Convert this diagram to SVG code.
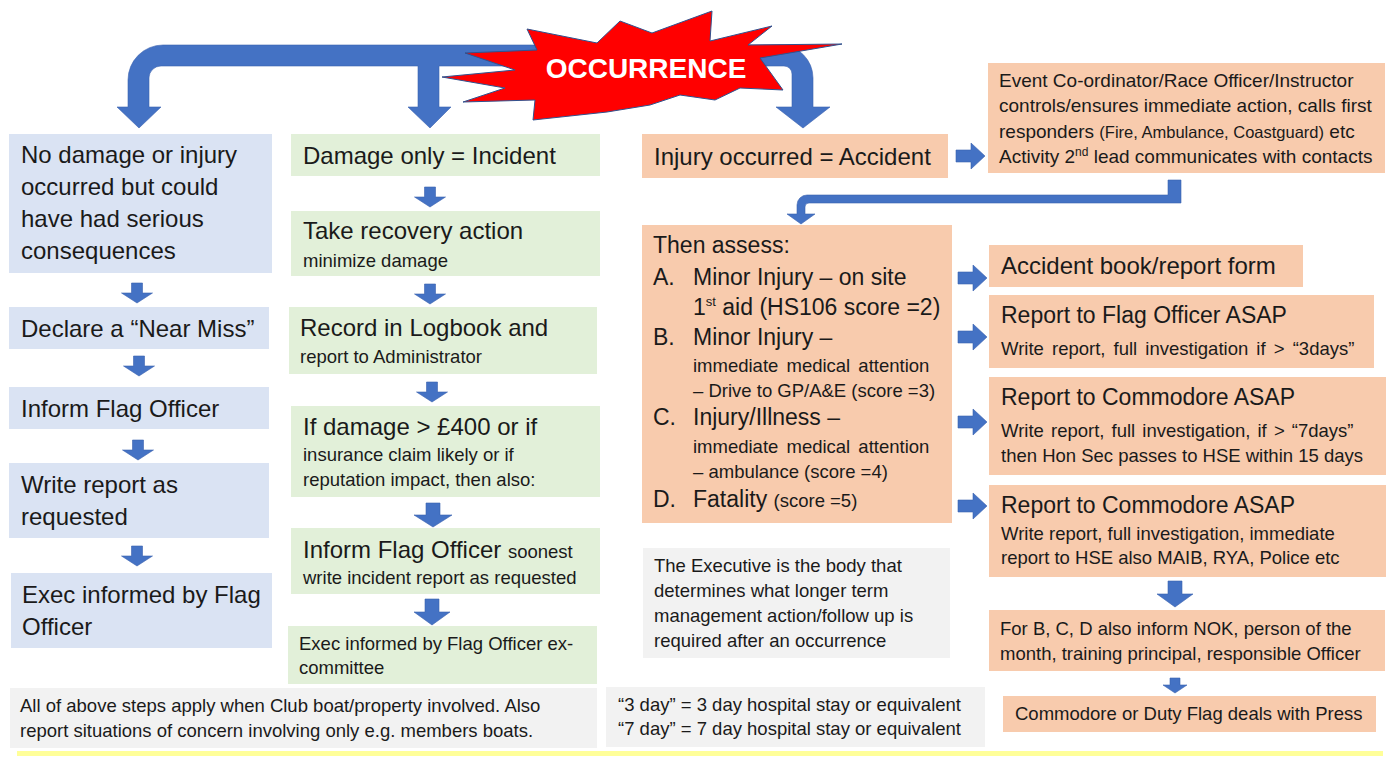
<svg xmlns="http://www.w3.org/2000/svg" width="1399" height="758" viewBox="0 0 1399 758">
<style>
text{font-family:"Liberation Sans",Arial,sans-serif;fill:#1a1a1a}
.big{font-size:24px}
.mid{font-size:23px}
.sm{font-size:18.5px}
.ev{font-size:19px}
.blue{fill:#DAE3F3}
.green{fill:#E2F0D9}
.orange{fill:#F8CBAD}
.gray{fill:#F2F2F2}
.arr{fill:#4472C4;stroke:#3A62AE;stroke-width:0.6}
</style>
<defs>
<path id="dA" d="M-5.5,0 H5.5 V10 H15.5 L0,20 L-15.5,10 H-5.5 Z"/>
<path id="dB" d="M-7,0 H7 V12 H19 L0,24 L-19,12 H-7 Z"/>
<path id="dC" d="M-7,0 H7 V13 H18 L0,26 L-18,13 H-7 Z"/>
<path id="dD" d="M-5,0 H5 V7 H12 L0,15 L-12,7 H-5 Z"/>
<path id="rA" d="M0,-6 H15 V-13 L29,0 L15,13 V6 H0 Z"/>
</defs>
<rect width="1399" height="758" fill="#ffffff"/>

<g id="connectors">
<path class="arr" d="M128,107 V80 A35,35 0 0 1 163,45 H780 A33,33 0 0 1 813,78 V107 H830 L803,128 L776,107 H792 V74 A8,8 0 0 0 784,66 H439 V107 H451 L430,128 L408,107 H418 V66 H161 A12,12 0 0 0 149,78 V107 H161 L139,128 L117,107 Z"/>
<use href="#dA" class="arr" transform="translate(137,283)"/>
<use href="#dA" class="arr" transform="translate(139,356)"/>
<use href="#dA" class="arr" transform="translate(138,440)"/>
<use href="#dA" class="arr" transform="translate(137,546)"/>
<use href="#dA" class="arr" transform="translate(430,187)"/>
<use href="#dA" class="arr" transform="translate(430,284)"/>
<use href="#dA" class="arr" transform="translate(432,382)"/>
<use href="#dB" class="arr" transform="translate(433,503)"/>
<use href="#dC" class="arr" transform="translate(432,599)"/>
<use href="#rA" class="arr" transform="translate(956,156)"/>
<path class="arr" d="M1168,180 H1181 V203 H809 A4,4 0 0 0 805,207 V214 H815 L801,224 L787,214 H797 V205 A10,10 0 0 1 807,195 H1168 Z"/>
<use href="#rA" class="arr" transform="translate(958,278)"/>
<use href="#rA" class="arr" transform="translate(958,337)"/>
<use href="#rA" class="arr" transform="translate(958,422)"/>
<use href="#rA" class="arr" transform="translate(958,506)"/>
<use href="#dC" class="arr" transform="translate(1175,581)"/>
<use href="#dD" class="arr" transform="translate(1175,678)"/>
</g>

<g id="occurrence">
<polygon points="527,29 597,43 620,21 652,33 712,11 710,41 772,26 748,45 842,44 760,58 783,90 740,88 715,100 680,95 650,105 607,112 533,120 535,100 463,102 505,88 442,77 515,70 465,53 537,50" fill="#FF0000" stroke="#2F528F" stroke-width="1"/>
<text x="646" y="78" text-anchor="middle" font-size="28" font-weight="bold" style="fill:#ffffff">OCCURRENCE</text>
</g>

<g id="near-miss-start">
<rect class="blue" x="9" y="134" width="263" height="139"/>
<text class="big" x="21" y="163">No damage or injury</text>
<text class="big" x="21" y="195">occurred but could</text>
<text class="big" x="21" y="227">have had serious</text>
<text class="big" x="21" y="259">consequences</text>
</g>
<g id="declare-near-miss">
<rect class="blue" x="9" y="307" width="260" height="42"/>
<text class="big" x="21" y="337">Declare a “Near Miss”</text>
</g>
<g id="inform-flag-officer">
<rect class="blue" x="9" y="387" width="260" height="42"/>
<text class="big" x="21" y="417">Inform Flag Officer</text>
</g>
<g id="write-report">
<rect class="blue" x="9" y="463" width="260" height="75"/>
<text class="big" x="21" y="493">Write report as</text>
<text class="big" x="21" y="525">requested</text>
</g>
<g id="exec-informed-left">
<rect class="blue" x="11" y="573" width="261" height="75"/>
<text class="big" x="22" y="603">Exec informed by Flag</text>
<text class="big" x="22" y="635">Officer</text>
</g>

<g id="damage-only">
<rect class="green" x="291" y="134" width="309" height="42"/>
<text class="big" x="303" y="164">Damage only = Incident</text>
</g>
<g id="recovery-action">
<rect class="green" x="291" y="211" width="309" height="65"/>
<text class="big" x="303" y="239">Take recovery action</text>
<text class="sm" x="303" y="267">minimize damage</text>
</g>
<g id="record-logbook">
<rect class="green" x="289" y="307" width="308" height="67"/>
<text class="big" x="300" y="336">Record in Logbook and</text>
<text class="sm" x="300" y="363">report to Administrator</text>
</g>
<g id="damage-400">
<rect class="green" x="291" y="406" width="309" height="91"/>
<text class="big" x="303" y="435">If damage &gt; £400 or if</text>
<text class="sm" x="303" y="461">insurance claim likely or if</text>
<text class="sm" x="303" y="486">reputation impact, then also:</text>
</g>
<g id="inform-flag-soonest">
<rect class="green" x="291" y="528" width="309" height="66"/>
<text class="big" x="303" y="558">Inform Flag Officer <tspan class="sm">soonest</tspan></text>
<text class="sm" x="303" y="584">write incident report as requested</text>
</g>
<g id="exec-informed-mid">
<rect class="green" x="288" y="626" width="309" height="58"/>
<text class="sm" x="299" y="650">Exec informed by Flag Officer ex-</text>
<text class="sm" x="299" y="674">committee</text>
</g>

<g id="injury-accident">
<rect class="orange" x="642" y="134" width="306" height="44"/>
<text class="big" x="654" y="165">Injury occurred = Accident</text>
</g>
<g id="event-coordinator">
<rect class="orange" x="988" y="63" width="397" height="110"/>
<text class="ev" x="999" y="87">Event Co-ordinator/Race Officer/Instructor</text>
<text class="ev" x="999" y="112">controls/ensures immediate action, calls first</text>
<text class="ev" x="999" y="138">responders <tspan font-size="16.5">(Fire, Ambulance, Coastguard)</tspan> etc</text>
<text class="ev" x="999" y="163">Activity 2<tspan font-size="12" dy="-7">nd</tspan><tspan dy="7"> lead communicates with contacts</tspan></text>
</g>
<g id="then-assess">
<rect class="orange" x="642" y="225" width="310" height="298"/>
<text class="mid" x="653" y="253">Then assess:</text>
<text class="mid" x="653" y="285">A.</text>
<text class="mid" x="693" y="285">Minor Injury – on site</text>
<text class="mid" x="693" y="315">1<tspan font-size="13" dy="-9">st</tspan><tspan dy="9"> aid (HS106 score =2)</tspan></text>
<text class="mid" x="653" y="345">B.</text>
<text class="mid" x="693" y="345">Minor Injury –</text>
<text class="sm" x="693" y="372" word-spacing="3">immediate medical attention</text>
<text class="sm" x="693" y="397">– Drive to GP/A&amp;E (score =3)</text>
<text class="mid" x="653" y="425">C.</text>
<text class="mid" x="693" y="425">Injury/Illness –</text>
<text class="sm" x="693" y="453" word-spacing="3">immediate medical attention</text>
<text class="sm" x="693" y="478">– ambulance (score =4)</text>
<text class="mid" x="653" y="507">D.</text>
<text class="mid" x="693" y="507">Fatality <tspan class="sm">(score =5)</tspan></text>
</g>
<g id="executive-note">
<rect class="gray" x="643" y="548" width="307" height="110"/>
<text class="sm" x="654" y="572">The Executive is the body that</text>
<text class="sm" x="654" y="597">determines what longer term</text>
<text class="sm" x="654" y="622">management action/follow up is</text>
<text class="sm" x="654" y="647">required after an occurrence</text>
</g>
<g id="accident-book">
<rect class="orange" x="989" y="245" width="314" height="42"/>
<text class="big" x="1001" y="274">Accident book/report form</text>
</g>
<g id="report-flag-officer">
<rect class="orange" x="989" y="295" width="385" height="73"/>
<text class="mid" x="1001" y="323">Report to Flag Officer ASAP</text>
<text class="sm" x="1001" y="355" word-spacing="3">Write report, full investigation if &gt; “3days”</text>
</g>
<g id="report-commodore-1">
<rect class="orange" x="989" y="377" width="397" height="98"/>
<text class="mid" x="1001" y="405">Report to Commodore ASAP</text>
<text class="sm" x="1001" y="437" word-spacing="2">Write report, full investigation, if &gt; “7days”</text>
<text class="sm" x="1001" y="462">then Hon Sec passes to HSE within 15 days</text>
</g>
<g id="report-commodore-2">
<rect class="orange" x="989" y="485" width="397" height="92"/>
<text class="mid" x="1001" y="513">Report to Commodore ASAP</text>
<text class="sm" x="1001" y="540">Write report, full investigation, immediate</text>
<text class="sm" x="1001" y="564">report to HSE also MAIB, RYA, Police etc</text>
</g>
<g id="inform-nok">
<rect class="orange" x="989" y="610" width="396" height="61"/>
<text class="sm" x="1000" y="635">For B, C, D also inform NOK, person of the</text>
<text class="sm" x="1000" y="660">month, training principal, responsible Officer</text>
</g>
<g id="press">
<rect class="orange" x="1003" y="696" width="373" height="36"/>
<text class="sm" x="1015" y="720">Commodore or Duty Flag deals with Press</text>
</g>

<g id="club-boat-note">
<rect class="gray" x="10" y="688" width="587" height="60"/>
<text class="sm" x="20" y="712">All of above steps apply when Club boat/property involved. Also</text>
<text class="sm" x="20" y="737">report situations of concern involving only e.g. members boats.</text>
</g>
<g id="day-note">
<rect class="gray" x="606" y="687" width="379" height="60"/>
<text class="sm" x="618" y="711">“3 day” = 3 day hospital stay or equivalent</text>
<text class="sm" x="618" y="735">“7 day” = 7 day hospital stay or equivalent</text>
</g>
<rect x="17" y="751" width="1366" height="5" fill="#FFFF99"/>
</svg>
